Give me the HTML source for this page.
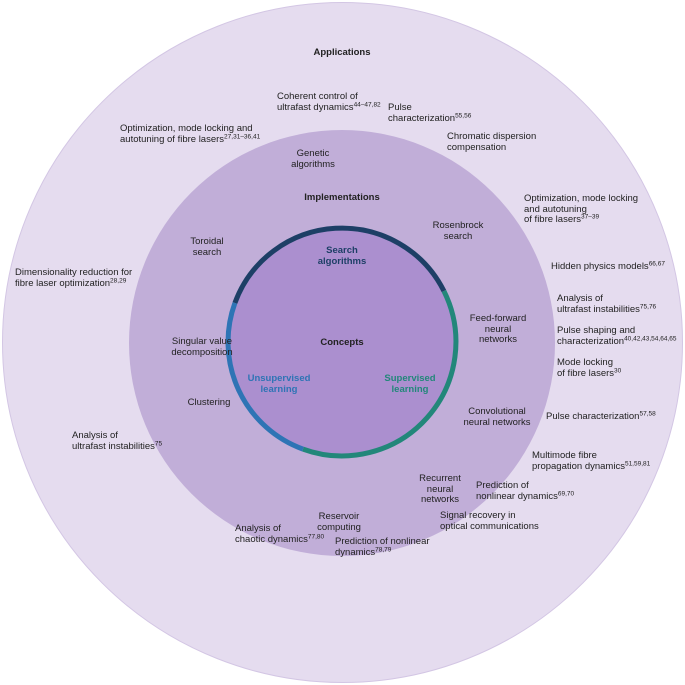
<!DOCTYPE html>
<html><head><meta charset="utf-8"><style>
html,body{margin:0;padding:0;background:#fff;}
#c{position:relative;width:685px;height:685px;overflow:hidden;font-family:"Liberation Sans",sans-serif;font-size:9.5px;line-height:10.5px;color:#222;}
.t{position:absolute;white-space:nowrap;}
.m{position:absolute;white-space:nowrap;text-align:center;transform:translateX(-50%);}
sup{font-size:6.5px;line-height:0;vertical-align:3.5px;}
b{font-weight:bold;}
</style></head><body><div id="c">
<svg width="685" height="685" style="position:absolute;left:0;top:0">
<circle cx="342.5" cy="342.5" r="340" fill="#e5dcef" stroke="#d3c6e4" stroke-width="1"/>
<circle cx="342" cy="343" r="213" fill="#c1aed8"/>
<circle cx="342" cy="342" r="114" fill="#ab8fcf"/>
<path d="M234.9 303 A114 114 0 0 1 443.9 291" fill="none" stroke="#1d3f66" stroke-width="5"/>
<path d="M443.9 291 A114 114 0 0 1 303 449.1" fill="none" stroke="#22877a" stroke-width="5"/>
<path d="M303 449.1 A114 114 0 0 1 234.9 303" fill="none" stroke="#2e74b5" stroke-width="5"/>
</svg>
<div class="m" style="left:342px;top:48px"><b>Applications</b></div>
<div class="t" style="left:277px;top:92px">Coherent control of<br>ultrafast dynamics<sup>44–47,82</sup></div>
<div class="t" style="left:388px;top:103px">Pulse<br>characterization<sup>55,56</sup></div>
<div class="t" style="left:447px;top:132px">Chromatic dispersion<br>compensation</div>
<div class="t" style="left:120px;top:124px">Optimization, mode locking and<br>autotuning of fibre lasers<sup>27,31–36,41</sup></div>
<div class="t" style="left:524px;top:194px">Optimization, mode locking<br>and autotuning<br>of fibre lasers<sup>37–39</sup></div>
<div class="t" style="left:551px;top:262px">Hidden physics models<sup>66,67</sup></div>
<div class="t" style="left:557px;top:294px">Analysis of<br>ultrafast instabilities<sup>75,76</sup></div>
<div class="t" style="left:557px;top:326px">Pulse shaping and<br>characterization<sup>40,42,43,54,64,65</sup></div>
<div class="t" style="left:557px;top:358px">Mode locking<br>of fibre lasers<sup>30</sup></div>
<div class="t" style="left:546px;top:412px">Pulse characterization<sup>57,58</sup></div>
<div class="t" style="left:532px;top:451px">Multimode fibre<br>propagation dynamics<sup>51,59,81</sup></div>
<div class="t" style="left:476px;top:481px">Prediction of<br>nonlinear dynamics<sup>69,70</sup></div>
<div class="t" style="left:440px;top:511px">Signal recovery in<br>optical communications</div>
<div class="t" style="left:335px;top:537px">Prediction of nonlinear<br>dynamics<sup>78,79</sup></div>
<div class="t" style="left:235px;top:524px">Analysis of<br>chaotic dynamics<sup>77,80</sup></div>
<div class="t" style="left:72px;top:431px">Analysis of<br>ultrafast instabilities<sup>75</sup></div>
<div class="t" style="left:15px;top:268px">Dimensionality reduction for<br>fibre laser optimization<sup>28,29</sup></div>

<div class="m" style="left:342px;top:193px"><b>Implementations</b></div>
<div class="m" style="left:313px;top:149px">Genetic<br>algorithms</div>
<div class="m" style="left:458px;top:221px">Rosenbrock<br>search</div>
<div class="m" style="left:207px;top:237px">Toroidal<br>search</div>
<div class="m" style="left:498px;top:314px">Feed-forward<br>neural<br>networks</div>
<div class="m" style="left:202px;top:337px">Singular value<br>decomposition</div>
<div class="m" style="left:497px;top:407px">Convolutional<br>neural networks</div>
<div class="m" style="left:209px;top:398px">Clustering</div>
<div class="m" style="left:440px;top:474px">Recurrent<br>neural<br>networks</div>
<div class="m" style="left:339px;top:512px">Reservoir<br>computing</div>

<div class="m" style="left:342px;top:246px;color:#1d3f66"><b>Search<br>algorithms</b></div>
<div class="m" style="left:342px;top:338px"><b>Concepts</b></div>
<div class="m" style="left:279px;top:374px;color:#2e74b5"><b>Unsupervised<br>learning</b></div>
<div class="m" style="left:410px;top:374px;color:#22877a"><b>Supervised<br>learning</b></div>
</div></body></html>
